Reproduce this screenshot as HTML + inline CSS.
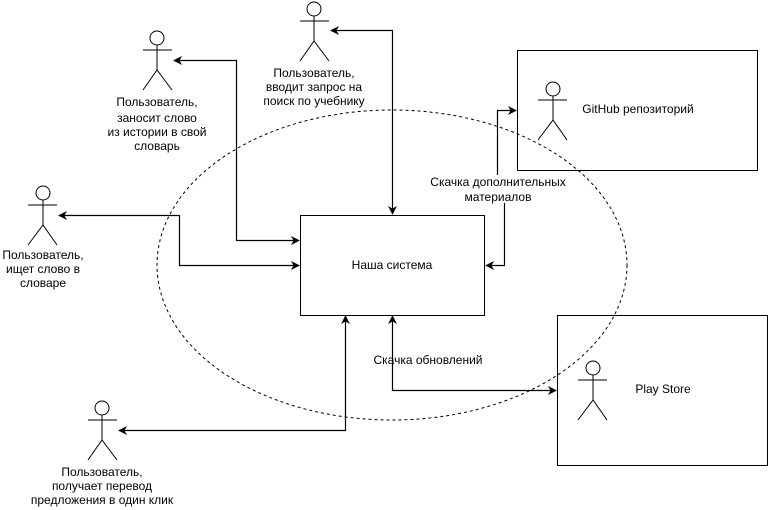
<!DOCTYPE html>
<html><head><meta charset="utf-8"><style>
html,body{margin:0;padding:0;background:#fff;}
svg{display:block;}
text{font-family:"Liberation Sans",Arial,sans-serif;font-size:12px;fill:#000;}
</style></head><body>
<svg width="768" height="510" viewBox="0 0 768 510" xmlns="http://www.w3.org/2000/svg">
<defs>
<marker id="a" viewBox="0 0 10 10" refX="9" refY="5" markerWidth="9" markerHeight="9" orient="auto-start-reverse" markerUnits="userSpaceOnUse">
<path d="M0,0 L10,5 L0,10 L3,5 Z" fill="#000"/>
</marker>
</defs>
<g fill="none" stroke="#000" stroke-width="1">
<ellipse cx="392" cy="265" rx="235" ry="155" stroke-dasharray="3,3"/>
<rect x="300.5" y="215.5" width="184" height="100" fill="#fff"/>
<rect x="517.5" y="50.5" width="240" height="120"/>
<rect x="557.5" y="315.5" width="210" height="150"/>
</g>
<g fill="#fff" stroke="#000" stroke-width="1">
<circle cx="314" cy="9" r="7"/><path d="M300 21H329M314 16V41M300 61L314 41L329 61" fill="none"/>
<circle cx="157" cy="38" r="7"/><path d="M143 50H172M157 45V70M143 90L157 70L172 90" fill="none"/>
<circle cx="43" cy="193" r="7"/><path d="M28 205H57M43 200V225M28 245L43 225L57 245" fill="none"/>
<circle cx="102" cy="408" r="7"/><path d="M88 420H117M102 415V440M88 460L102 440L117 460" fill="none"/>
<circle cx="553" cy="89" r="7"/><path d="M538 100H567M553 96V120M538 140L553 120L567 140" fill="none"/>
<circle cx="593" cy="368" r="7"/><path d="M578 380H607M593 375V400M578 420L593 400L607 420" fill="none"/>
</g>
<g fill="none" stroke="#000" stroke-width="1.2">
<path d="M392.5 214V30.5H331" marker-start="url(#a)" marker-end="url(#a)"/>
<path d="M299 240.5H236.5V60.5H174" marker-start="url(#a)" marker-end="url(#a)"/>
<path d="M299 265.5H179.5V215.5H59" marker-start="url(#a)" marker-end="url(#a)"/>
<path d="M345.5 316V430.5H119" marker-start="url(#a)" marker-end="url(#a)"/>
<path d="M486 265.5H504.5V203"  marker-start="url(#a)"/>
<path d="M497.5 175V110.5H516" marker-end="url(#a)"/>
<path d="M392.5 316V390.5H556" marker-start="url(#a)" marker-end="url(#a)"/>
</g>
<g text-anchor="middle">
<text x="314" y="77">Пользователь,</text>
<text x="314" y="91">вводит запрос на</text>
<text x="314" y="105">поиск по учебнику</text>
<text x="157" y="106">Пользователь,</text>
<text x="157" y="122">заносит слово</text>
<text x="157" y="136">из истории в свой</text>
<text x="157" y="150">словарь</text>
<text x="43" y="259">Пользователь,</text>
<text x="43" y="273">ищет слово в</text>
<text x="43" y="287">словаре</text>
<text x="102" y="476">Пользователь,</text>
<text x="102" y="490">получает перевод</text>
<text x="102" y="504">предложения в один клик</text>
<text x="392" y="269">Наша система</text>
<text x="498" y="186">Скачка дополнительных</text>
<text x="498" y="201">материалов</text>
<text x="428" y="364">Скачка обновлений</text>
<text x="638" y="113">GitHub репозиторий</text>
<text x="663" y="393">Play Store</text>
</g>
</svg>
</body></html>
